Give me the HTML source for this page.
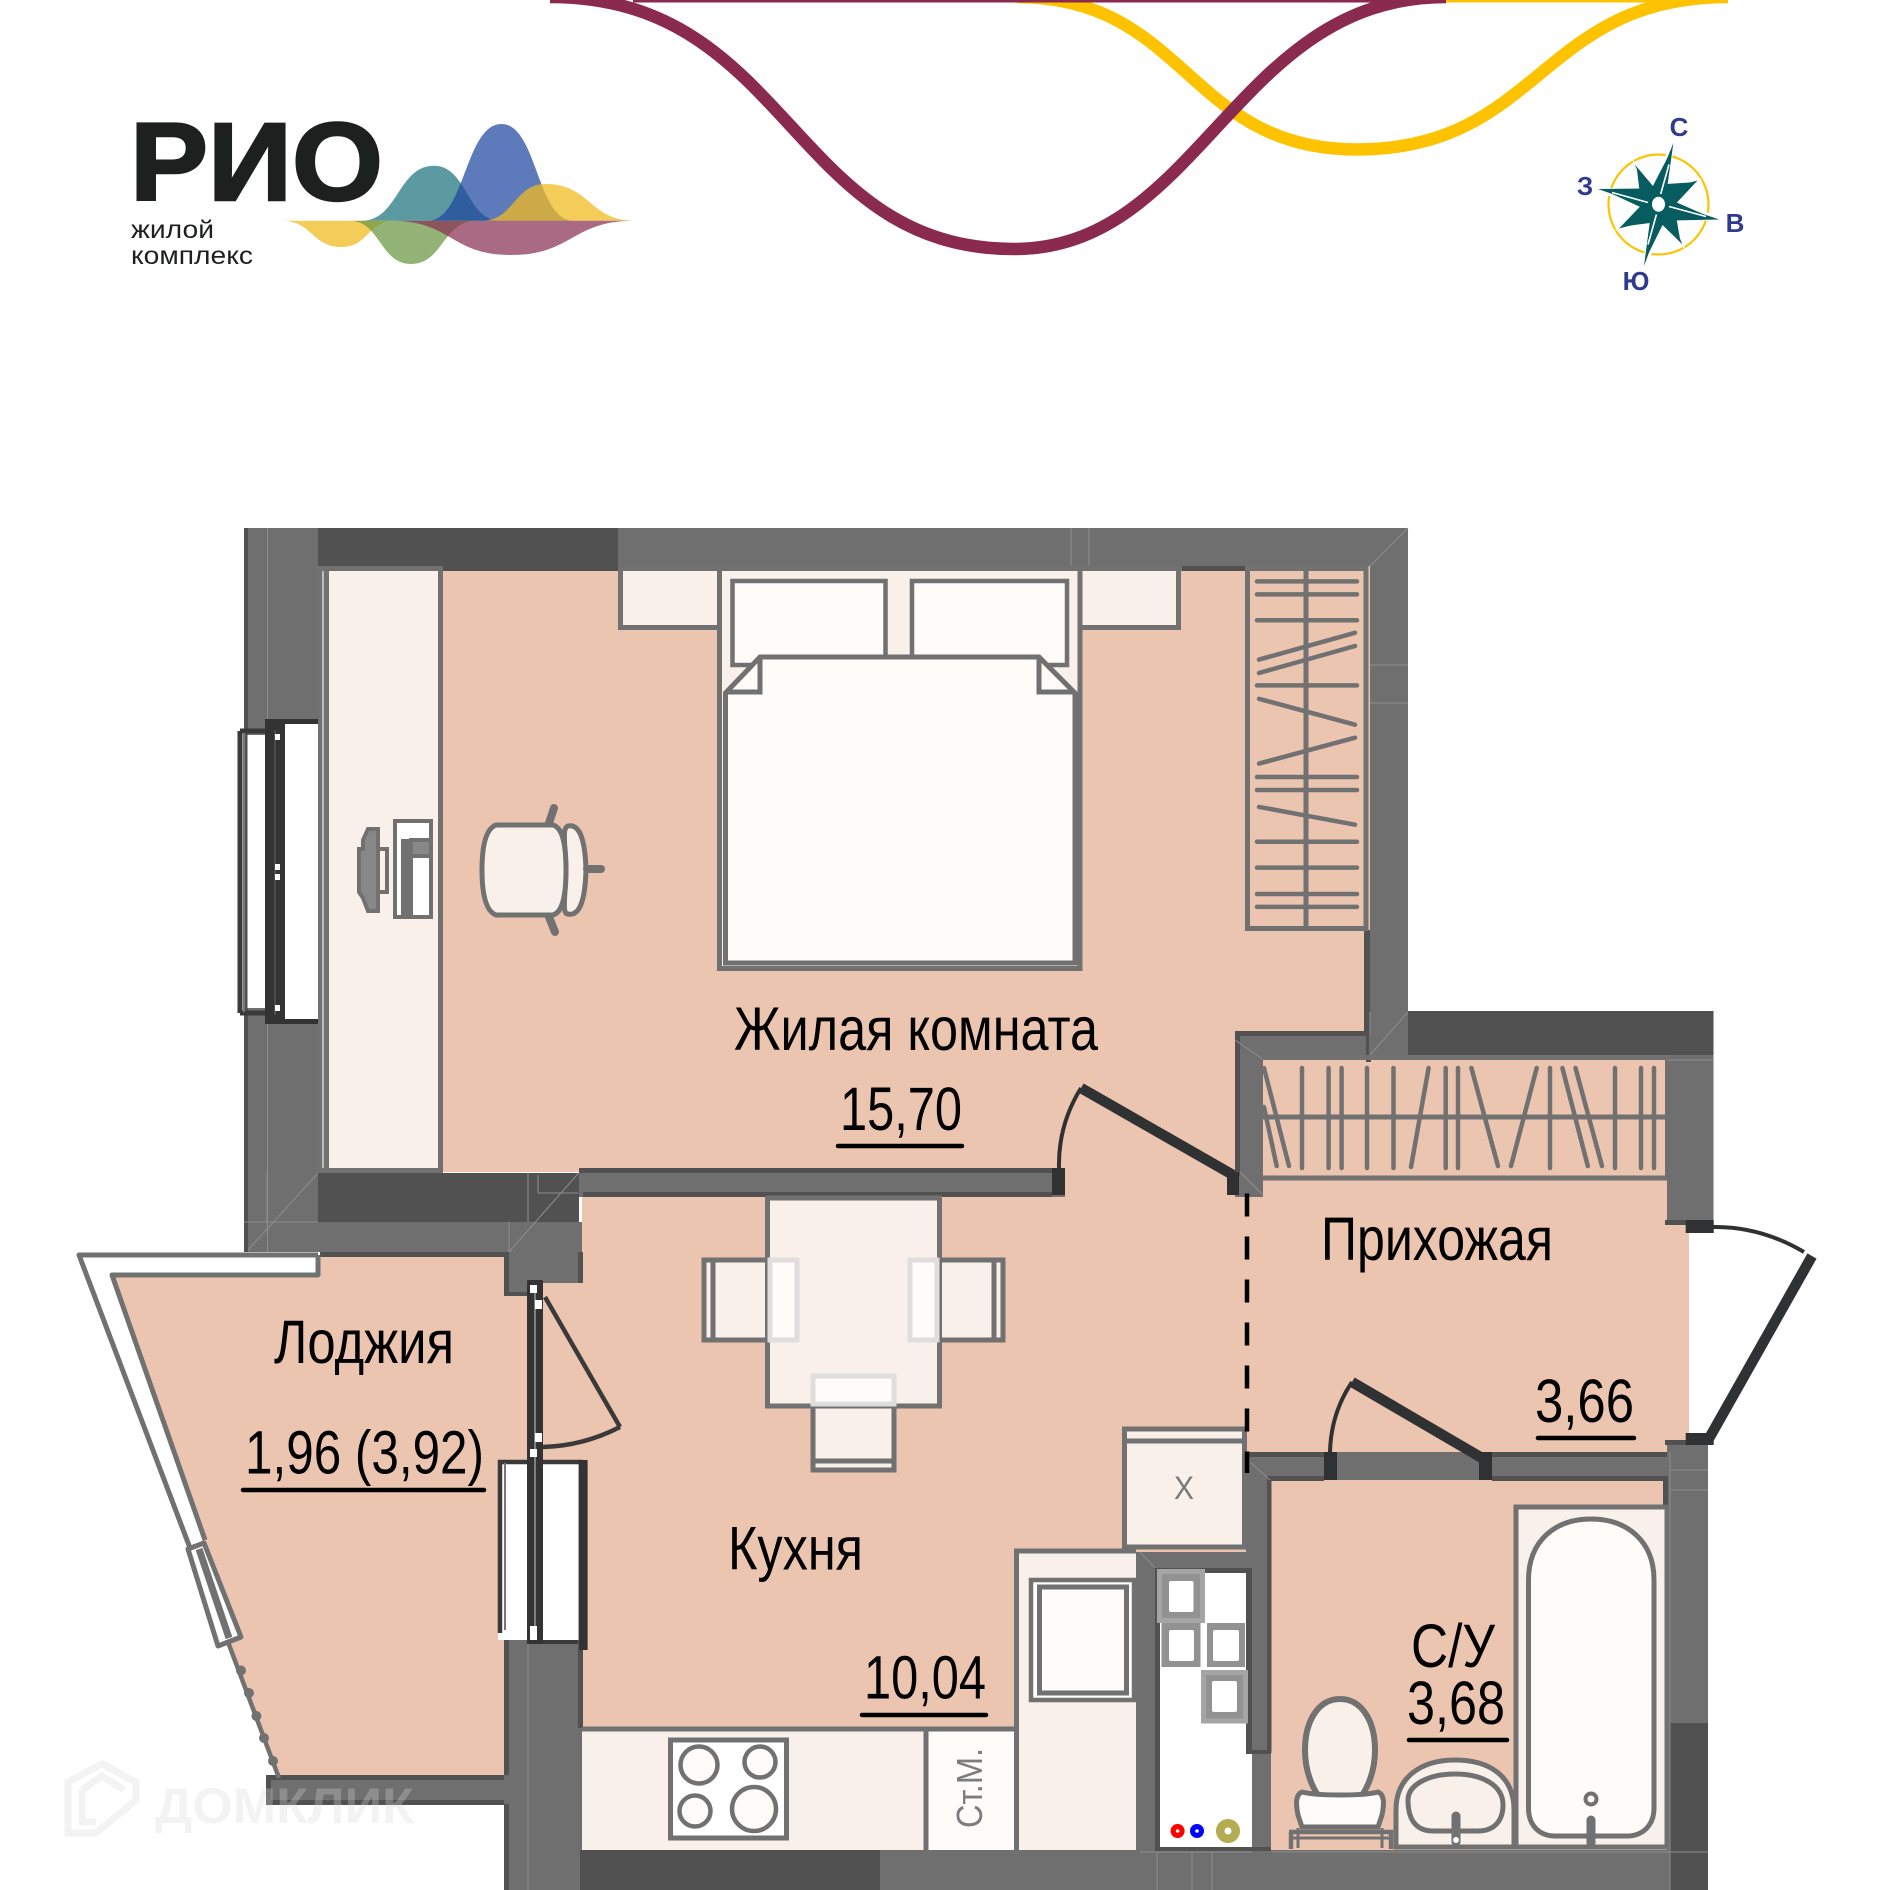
<!DOCTYPE html>
<html><head><meta charset="utf-8"><title>РИО</title>
<style>html,body{margin:0;padding:0;background:#fff}svg{display:block}text{font-family:"Liberation Sans","Noto Sans CJK SC",sans-serif}</style></head>
<body>
<svg xmlns="http://www.w3.org/2000/svg" width="1891" height="1890" viewBox="0 0 1891 1890">
<rect width="1891" height="1890" fill="#fff"/>
<!-- top curves -->
<path d="M1017,-3 C1187,-3 1187,149.5 1357,149.5 C1540,149.5 1540,-3 1728,-3" fill="none" stroke="#fdc300" stroke-width="12.5"/>
<rect x="1446" y="0" width="282" height="2.5" fill="#fdc300"/>
<rect x="633" y="0" width="813" height="2.5" fill="#8a2a4e"/>
<path d="M550,-3 C790,-3 790,249 1014,249 C1200,249 1235,-3 1446,-3" fill="none" stroke="#8a2a4e" stroke-width="12.5"/>
<!-- logo -->
<text x="130" y="200" font-size="110" font-weight="700" fill="#1e201f" stroke="#1e201f" stroke-width="2.5" textLength="253" lengthAdjust="spacingAndGlyphs">РИО</text>
<text x="131" y="238" font-size="25" fill="#1e201f" textLength="83" lengthAdjust="spacingAndGlyphs">жилой</text>
<text x="131" y="264" font-size="25" fill="#1e201f" textLength="122" lengthAdjust="spacingAndGlyphs">комплекс</text>
<path d="M362,220.7 C398,220.7 398,165.7 434,165.7 C467,165.7 467,220.7 500,220.7Z" fill="#0d6a75" opacity=".68"/>
<path d="M428,220.7 C465,220.7 465,124 501.5,124 C537,124 537,220.7 573,220.7Z" fill="#1f46a0" opacity=".72"/>
<path d="M482,220.7 C514,220.7 514,184 545.5,184 C590,184 590,220.7 634,220.7Z" fill="#f0bb20" opacity=".75"/>
<path d="M282,220.7 C312,220.7 312,247 342,247 C368,247 368,220.7 395,220.7Z" fill="#f0bb20" opacity=".75"/>
<path d="M350,220.7 C380,220.7 380,264 411,264 C443,264 443,220.7 476,220.7Z" fill="#6f9a4a" opacity=".75"/>
<path d="M392,220.7 C451,220.7 451,255 511,255 C572,255 572,220.7 634,220.7Z" fill="#893055" opacity=".72"/>
<!-- compass -->
<g transform="translate(0,-3.5)">
<circle cx="1658.5" cy="208" r="50" fill="none" stroke="#fdc300" stroke-width="2.2"/>
<polygon fill="#075c60" stroke="#fff" stroke-width="3" points="1673.4,146.4 1666,186 1697.6,184 1676,204 1719.3,223 1678,222 1682.5,248 1664,229 1644,269.5 1650,228 1619,232 1640,212 1598,192.5 1638,194 1634.8,168 1652,188"/>
<polygon fill="#075c60" points="1673.4,146.4 1667,192 1697.6,184 1675,208 1719.3,223 1672,224 1682.5,248 1660,226 1644,269.5 1650,224 1619,232 1642,208 1598,192.5 1645,192 1634.8,168 1655,192"/>
<path d="M1669,168 L1660,200 M1648,248 L1657,216 M1612,196 L1648,206 M1706,220 L1669,210" stroke="#fff" stroke-width="1.6" fill="none"/>
<ellipse cx="1658.5" cy="207.8" rx="8" ry="9" fill="#fff" stroke="#075c60" stroke-width="3"/>
</g>
<g font-size="26" font-weight="700" fill="#2e3b8e" text-anchor="middle">
<text x="1679" y="136">С</text><text x="1735" y="232">В</text><text x="1636" y="290">Ю</text><text x="1585" y="195">З</text>
</g>
<!-- floors -->
<g fill="#ecc5b0">
<rect x="318" y="566" width="1052" height="606"/>
<rect x="582" y="1168" width="670" height="687"/>
<rect x="1234" y="1055" width="433" height="140"/>
<rect x="1234" y="1170" width="455" height="285"/>
<rect x="1271" y="1470" width="397" height="380"/>
<rect x="527" y="1283" width="60" height="178"/>
<polygon points="320,1257 504,1257 504,1295 527,1295 527,1461 504,1461 504,1775.5 280,1775.5 230,1642 111,1276 320,1276"/>
</g>
<!-- walls -->
<g fill="#6f6f6f">
<rect x="244" y="528" width="74" height="724"/>
<rect x="318" y="528" width="1090" height="38"/>
<rect x="1370" y="528" width="38" height="527"/>
<rect x="1366" y="1032" width="43" height="23"/>
<rect x="318" y="1222" width="264" height="30"/>
<rect x="504" y="1252" width="78" height="31"/>
<rect x="504" y="1283" width="23" height="12"/>
<rect x="579" y="1168" width="486" height="29"/>
<rect x="1235" y="1032" width="135" height="23"/>
<rect x="1235" y="1032" width="28" height="165"/>
<rect x="1667" y="1055" width="46.5" height="168"/>
<rect x="1667" y="1445" width="41" height="445"/>
<rect x="1247" y="1452" width="420" height="28"/>
<rect x="1246" y="1457" width="25" height="296"/>
<rect x="1252" y="1753" width="19" height="100"/>
<rect x="1136" y="1552" width="135" height="16"/>
<rect x="1136" y="1552" width="22" height="300"/>
<rect x="504" y="1633" width="78" height="257"/>
<rect x="266" y="1775" width="238" height="29"/>
<rect x="580" y="1850" width="1128" height="40"/>
</g>
<g fill="#515151">
<rect x="318" y="528" width="300" height="38"/>
<rect x="318" y="566" width="300" height="5"/>
<rect x="1182" y="566" width="63" height="5"/>
<rect x="318" y="1173" width="261" height="49"/>
<rect x="579" y="1168" width="473" height="5"/>
<rect x="583" y="1192" width="469" height="5"/>
<rect x="244" y="528" width="4" height="724"/>
<rect x="1408" y="1011" width="305.5" height="44"/>
<rect x="580" y="1850" width="300" height="40"/>
<rect x="1669.5" y="1723" width="38.5" height="167"/>
<rect x="1364" y="930" width="6" height="102"/>
<rect x="1235" y="1031" width="135" height="5"/>
<rect x="1235" y="1031" width="5" height="145"/>
<rect x="1366" y="1036" width="5" height="26"/>
<rect x="1665" y="1220" width="21" height="5"/>
<rect x="1665" y="1440" width="21" height="5"/>
<rect x="1247" y="1452" width="77" height="5"/>
<rect x="1492" y="1452" width="175" height="5"/>
<rect x="1271" y="1476" width="53" height="5"/>
<rect x="1492" y="1476" width="175" height="5"/>
<rect x="1663" y="1476" width="5" height="30"/>
<rect x="1267" y="1476" width="4.5" height="277"/>
<rect x="1155" y="1568" width="97" height="5"/>
<rect x="1155" y="1568" width="5" height="282"/>
<rect x="1155" y="1847" width="115" height="4"/>
<rect x="1246" y="1568" width="6" height="185"/>
<rect x="1246" y="1750" width="25" height="4"/>
<rect x="1252" y="1848" width="19" height="5"/>
<rect x="504" y="1252" width="5" height="43"/>
<rect x="504" y="1292" width="23" height="4"/>
<rect x="504" y="1633" width="5" height="142"/>
<rect x="504" y="1804" width="5" height="86"/>
<rect x="578" y="1650" width="5" height="78"/>
<rect x="578" y="1252" width="5" height="31"/>
<rect x="266" y="1775" width="238" height="5"/>
<rect x="266" y="1800" width="238" height="5"/>
<rect x="266" y="1775" width="5" height="29"/>
<rect x="320" y="1252" width="184" height="5"/>
</g>
<rect x="1665" y="1055" width="2" height="125" fill="#6f6f6f"/>
<!-- thin wall lines -->
<g stroke="#8d8d8d" stroke-width="1" fill="none">
<path d="M267.5,528V719M267.5,1024V1252M1071,528V566M1089,528V566M1408,528L1370,566M1370,665H1408M1370,703H1408M1370,1055L1408,1012M1370,1055V1012M244,1222H318M267,1173V1222M318,1173L248,1250M528,1173V1222M578.6,1173L509,1252M509,1222V1252M538,1175V1193H578M528,1644V1890M1235,1040L1264,1060M1240,1172L1263,1195M1250,1462L1270,1480M1140,1552L1155,1568M1140,1852H1708M1157,1852V1890M1192,1852V1890M1212,1852V1890M1670,1452V1890M1670,1470H1708M1670,1490H1708M1667,1060H1713"/>
</g>
<!-- desk -->
<rect x="322" y="566" width="118" height="606" fill="#f9f0ea"/>
<g stroke="#717171" stroke-width="5" fill="none">
<path d="M319.5,566V1172M326.5,566V1172M440.5,566V1172M317,1170.5H443M318,568.5H443"/>
</g>
<path d="M323,571V1168" stroke="#bdbdbd" stroke-width="2"/>
<rect x="618" y="566" width="564" height="5" fill="#717171"/>
<!-- monitor -->
<g stroke="#717171" stroke-width="4" fill="#f9f0ea">
<polygon points="359,849 363,849 363,840 368,829 378,829 378,911 368,911 363,898 359,892" fill="#888"/>
<rect x="378" y="849" width="9" height="43"/>
<rect x="395" y="821" width="36" height="96" fill="#fff"/>
<rect x="403" y="841" width="8" height="76" fill="#717171"/>
<rect x="411" y="840" width="20" height="16" fill="#888"/>
</g>
<!-- chair -->
<g stroke="#717171" stroke-width="5" fill="#f9f0ea">
<path d="M554,808L549,823M549,917L555,932" stroke-width="8" stroke-linecap="round"/>
<path d="M568,826 C578,824 585,835 586,870 C585,905 578,916 568,914 C562,914 565,900 566,870 C565,840 562,828 568,826Z" fill="#f9f0ea"/>
<path d="M496,825 H553 C563,828 566,845 566,870 C566,895 563,912 553,915 H496 C488,912 482,900 482,870 C482,840 488,828 496,825Z"/>
<path d="M587,869H601" stroke-width="8" stroke-linecap="round"/>
</g>
<!-- nightstands -->
<rect x="620" y="571" width="97" height="57" fill="#f9f0ea"/><rect x="1082" y="571" width="97" height="57" fill="#f9f0ea"/>
<g fill="none" stroke="#717171" stroke-width="5">
<path d="M620.5,566V627.5H720"/><path d="M1082,627.5H1178.5V566"/>
</g>
<!-- bed -->
<rect x="717" y="571" width="365" height="400" fill="#f9f0ea"/>
<g stroke="#717171" stroke-width="5" fill="none">
<path d="M719.5,566V968.5H1080V566"/>
</g>
<rect x="732.5" y="581" width="153" height="84" fill="#fffbf9" stroke="#717171" stroke-width="4.5"/>
<rect x="912" y="581" width="155" height="84" fill="#fffbf9" stroke="#717171" stroke-width="4.5"/>
<polygon points="760,657 1039,657 1075,693 1075,963 725.5,963 725.5,693" fill="#fffbf9" stroke="#717171" stroke-width="5"/>
<path d="M760,657V692H725.5M1039,657V692H1075" fill="none" stroke="#717171" stroke-width="5"/>
<!-- wardrobe bedroom -->
<g stroke="#717171" fill="none">
<path d="M1247.5,566V928.5H1366V566M1245,568.5H1368" stroke-width="5"/>
<path d="M1306,570V928" stroke-width="5"/>
<g stroke-width="4.5" stroke-linecap="round">
<path d="M1257,581.4H1357M1257,594.4H1357M1257,620.3H1357M1259,659.6L1355,632.8M1259,673L1355,646M1257,685.4H1357M1259,698.8L1355,724.7M1259,763.6L1355,737.7M1257,777H1357M1257,790H1357M1259,806.9L1355,824.7M1257,841.7H1357M1257,867.6H1357M1257,894H1357M1257,906.9H1357"/>
</g>
</g>
<!-- hall wardrobe -->
<g stroke="#717171" fill="none">
<path d="M1263,1057.5H1667M1263,1178H1667" stroke-width="5"/>
<path d="M1263,1117H1665" stroke-width="5"/>
<g stroke-width="4.5" stroke-linecap="round">
<path d="M1264,1068L1289,1166M1264,1107L1276.7,1166M1302,1068V1168M1328.6,1068V1168M1341.6,1068V1168M1367,1068V1168M1393.5,1068V1168M1428.6,1068L1411,1167M1445.7,1068V1168M1458,1068V1168M1471.4,1068L1498,1166M1536.7,1068L1511,1166M1550,1068V1168M1562.4,1068L1587.8,1166M1575.5,1068L1602,1166M1615,1068V1168M1641,1068V1168M1654,1068V1168"/>
</g>
</g>
<!-- left window -->
<rect x="247.5" y="735" width="18" height="273" fill="#fff"/>
<rect x="280" y="724" width="38" height="295" fill="#fff"/>
<path d="M240,731V1013M240,731H270M240,1013H270" stroke="#3a3a3a" stroke-width="5" fill="none"/>
<path d="M244,733V1012" stroke="#777" stroke-width="2"/>
<path d="M265,721.5H318M265,1021.5H318" stroke="#333" stroke-width="5"/>
<rect x="265" y="719" width="20" height="305" rx="1" fill="#333"/>
<path d="M275,730V1015" stroke="#555" stroke-width="1.5"/>
<g fill="#fff"><rect x="275" y="734" width="5" height="6"/><rect x="275" y="864" width="5" height="6"/><rect x="275" y="874" width="5" height="6"/><rect x="275" y="1005" width="5" height="6"/></g>
<!-- balcony parapet -->
<polygon points="77,1253 320,1253 320,1277 111,1277 205,1542 187,1549" fill="#fff"/>
<g stroke="#717171" stroke-width="5" fill="none" stroke-linejoin="round">
<path d="M318,1255H79L190,1548"/><path d="M318,1255V1275H112L205,1540"/>
<polygon points="188,1549 204,1543 241,1637 218,1646" fill="#fff"/>
</g>
<path d="M199,1549L229,1638" stroke="#717171" stroke-width="7"/>
<path d="M228,1642L279,1778" stroke="#717171" stroke-width="4.5"/>
<g fill="#717171"><circle cx="241" cy="1670.5" r="5"/><circle cx="249" cy="1693" r="5"/><circle cx="256.4" cy="1716" r="5"/><circle cx="264" cy="1738" r="5"/><circle cx="273" cy="1761" r="5"/></g>
<!-- lower loggia window -->
<rect x="498" y="1460" width="85" height="180" fill="#fff"/>
<path d="M500,1633V1462H583" fill="none" stroke="#3a3a3a" stroke-width="4.5"/>
<path d="M505,1463V1630" stroke="#777" stroke-width="2"/>
<rect x="578.6" y="1460" width="9" height="190" fill="#333"/>
<path d="M527,1642H578" stroke="#3a3a3a" stroke-width="4"/>
<rect x="527" y="1280" width="16" height="364" rx="1" fill="#333"/>
<path d="M535,1290V1640" stroke="#999" stroke-width="1.5"/>
<g fill="#fff"><rect x="530" y="1285" width="7" height="8"/><rect x="535" y="1300" width="7" height="9"/><rect x="535" y="1433" width="7" height="9"/><rect x="530" y="1449" width="7" height="8"/><rect x="530" y="1626" width="7" height="14"/></g>
<!-- balcony door -->
<path d="M545,1297L620,1427" stroke="#3a3a3a" stroke-width="4.5" fill="none"/>
<path d="M620,1427Q583,1446 543,1447" stroke="#3a3a3a" stroke-width="4.5" fill="none"/>
<!-- table & chairs -->
<g stroke="#717171" stroke-width="5">
<rect x="704" y="1260" width="93" height="80" fill="#f9f0ea"/>
<rect x="910" y="1260" width="93" height="80" fill="#f9f0ea"/>
<rect x="813" y="1376" width="81" height="94" fill="#f9f0ea"/>
<rect x="767.5" y="1198" width="172" height="208" fill="#f9f0ea"/>
<path d="M713,1260V1340M994,1260V1340M813,1461H894" fill="none"/>
</g>
<g fill="#fffbf9" stroke="#e0dedd" stroke-width="5">
<rect x="770" y="1260" width="27" height="80"/>
<rect x="910" y="1260" width="27" height="80"/>
<rect x="813" y="1376" width="81" height="28"/>
</g>
<!-- fridge box -->
<rect x="1124.5" y="1429" width="120" height="118" fill="#f9f0ea" stroke="#717171" stroke-width="5"/>
<path d="M1124,1441H1245" stroke="#717171" stroke-width="5"/>
<text x="1174" y="1499" font-size="32" fill="#7a7a7a" textLength="20" lengthAdjust="spacingAndGlyphs">Х</text>
<!-- counters -->
<rect x="582" y="1729" width="432" height="121" fill="#f9f0ea"/>
<rect x="1016" y="1551" width="120" height="299" fill="#f9f0ea"/>
<rect x="927" y="1731" width="87" height="119" fill="#fffbf9"/>
<g stroke="#717171" stroke-width="5" fill="none">
<path d="M582,1729H1017M926,1729V1850M1016.5,1850V1551H1136"/>
</g>
<rect x="1031" y="1580" width="103" height="120" fill="#fff" stroke="#717171" stroke-width="4.5"/>
<rect x="1039.5" y="1587" width="87" height="106" fill="#fffbf9" stroke="#717171" stroke-width="5"/>
<rect x="670.5" y="1740" width="116" height="98" fill="#fff" stroke="#717171" stroke-width="5"/>
<g fill="#fffbf9" stroke="#717171" stroke-width="4.5">
<circle cx="699" cy="1765" r="18.5"/><circle cx="760" cy="1762" r="15.5"/><circle cx="695" cy="1811" r="15.5"/><circle cx="754" cy="1809" r="22"/>
</g>
<text transform="translate(982,1828) rotate(-90)" font-size="36" fill="#7c7c7c" textLength="80" lengthAdjust="spacingAndGlyphs">Ст.М.</text>
<!-- shaft -->
<rect x="1160" y="1573" width="86" height="274" fill="#fff"/>
<rect x="1246" y="1754" width="6" height="93" fill="#fff"/>
<g fill="#929292" stroke="#a5a5a5" stroke-width="5">
<rect x="1159.5" y="1571.5" width="43" height="49"/>
<rect x="1203.5" y="1672.5" width="42" height="48.5"/>
</g>
<rect x="1161.5" y="1623" width="39" height="44" fill="#929292"/>
<rect x="1207" y="1623" width="38" height="44" fill="#929292"/>
<g fill="#fff">
<rect x="1169" y="1581" width="24.5" height="31" rx="2"/><rect x="1169" y="1630" width="25" height="31" rx="2"/><rect x="1213" y="1630" width="26" height="31" rx="2"/><rect x="1212" y="1681" width="25" height="31" rx="2"/>
</g>
<circle cx="1177.6" cy="1831" r="7" fill="#f00"/><circle cx="1177.6" cy="1831" r="1.8" fill="#fff"/>
<circle cx="1197" cy="1831" r="7" fill="#00f"/><circle cx="1197" cy="1831" r="1.8" fill="#fff"/>
<circle cx="1228" cy="1831" r="12" fill="#b5ab50"/><circle cx="1228" cy="1831" r="3.5" fill="#fff"/>
<!-- bath -->
<rect x="1516" y="1507" width="151" height="340" fill="#f9f0ea" stroke="#717171" stroke-width="5"/>
<path d="M1528.5,1580 C1528.5,1541 1555,1519 1591,1519 C1627,1519 1654,1541 1654,1580 V1808 C1654,1826 1642,1836 1627,1836 H1555 C1540,1836 1528.5,1826 1528.5,1808Z" fill="#fffbf9" stroke="#717171" stroke-width="5"/>
<circle cx="1591" cy="1799" r="5.5" fill="#fffbf9" stroke="#717171" stroke-width="4"/>
<path d="M1591,1820V1843" stroke="#717171" stroke-width="9" stroke-linecap="round"/>
<!-- sink -->
<path d="M1396,1847 V1810 C1396,1775 1424,1760 1455,1760 C1488,1760 1514,1775 1514,1810 V1847Z" fill="#f9f0ea" stroke="#717171" stroke-width="5"/>
<path d="M1408,1800 C1408,1785 1428,1774 1455,1774 C1482,1774 1503,1785 1503,1805 C1503,1822 1493,1831 1478,1831 H1433 C1418,1831 1408,1822 1408,1800Z" fill="#f9f0ea" stroke="#717171" stroke-width="5"/>
<path d="M1456,1816V1842" stroke="#717171" stroke-width="9" stroke-linecap="round"/>
<circle cx="1456" cy="1840" r="3" fill="#fff"/>
<!-- toilet -->
<path d="M1340,1699 C1319,1699 1305,1720 1305,1750 C1305,1770 1311,1785 1319,1797 H1361 C1369,1785 1375,1770 1375,1750 C1375,1720 1361,1699 1340,1699Z" fill="#f9f0ea" stroke="#717171" stroke-width="6"/>
<path d="M1302,1792 C1295,1795 1296,1805 1298,1815 L1302,1827 H1378 L1382,1815 C1384,1805 1385,1795 1378,1792 C1364,1796 1317,1796 1302,1792Z" fill="#fffbf9" stroke="#717171" stroke-width="5"/>
<path d="M1289,1832H1391V1849M1291,1849V1832" fill="none" stroke="#717171" stroke-width="4.5"/>
<path d="M1298,1828V1848M1382,1828V1848M1289,1838H1391" fill="none" stroke="#717171" stroke-width="3"/>
<!-- doors -->
<g fill="none" stroke="#2f3132">
<path d="M1081,1088L1233,1175" stroke-width="10.5"/>
<path d="M1059,1168Q1058,1125 1081,1088" stroke-width="4"/>
<path d="M1352,1382L1482,1458" stroke-width="10.5"/>
<path d="M1330,1452Q1331,1413 1352,1382" stroke-width="4"/>
<path d="M1712,1227Q1760,1226 1804,1252" stroke-width="4"/>
<path d="M1812,1256L1707,1442" stroke-width="10.5"/>
</g>
<g fill="#2f3132">
<rect x="1052" y="1168" width="13" height="27"/>
<rect x="1227" y="1172" width="12" height="23"/>
<rect x="1324" y="1452" width="13" height="28"/>
<rect x="1479" y="1452" width="13" height="28"/>
<rect x="1685.7" y="1220" width="28" height="13"/>
<rect x="1685.7" y="1433" width="28" height="12"/>
</g>
<path d="M1237,1193.5H1247V1473" fill="none" stroke="#000" stroke-width="4.5" stroke-dasharray="23 20" stroke-dashoffset="-10"/>
<!-- labels -->
<g fill="#000" font-size="61">
<text x="734" y="1050" textLength="364" lengthAdjust="spacingAndGlyphs">Жилая комната</text>
<text x="840" y="1130" textLength="122" lengthAdjust="spacingAndGlyphs">15,70</text>
<text x="1321" y="1260" textLength="232" lengthAdjust="spacingAndGlyphs">Прихожая</text>
<text x="1535" y="1422" textLength="99" lengthAdjust="spacingAndGlyphs">3,66</text>
<text x="274" y="1363" textLength="180" lengthAdjust="spacingAndGlyphs">Лоджия</text>
<text x="245" y="1473.5" textLength="239" lengthAdjust="spacingAndGlyphs">1,96 (3,92)</text>
<text x="728" y="1569.5" textLength="135" lengthAdjust="spacingAndGlyphs">Кухня</text>
<text x="864" y="1698.6" textLength="122" lengthAdjust="spacingAndGlyphs">10,04</text>
<text x="1411" y="1667" textLength="84" lengthAdjust="spacingAndGlyphs">С/У</text>
<text x="1407" y="1724" textLength="98" lengthAdjust="spacingAndGlyphs">3,68</text>
</g>
<g stroke="#000" stroke-width="4.5" stroke-linecap="round">
<path d="M838,1146H962M1538,1438H1634M243,1490H484M862,1715H986M1409,1740H1507"/>
</g>
<!-- watermark -->
<g>
<path d="M68,1782L102,1764L136,1782V1800L112,1820L95,1833H68Z M82,1790V1822H96 M124,1790L102,1776L82,1790" fill="none" stroke="rgba(215,215,215,.3)" stroke-width="7"/>
<text x="155" y="1823" font-size="50" font-weight="700" fill="rgba(215,215,215,.3)" textLength="259" lengthAdjust="spacingAndGlyphs">ДОМКЛИК</text>
</g>
</svg>
</body></html>
